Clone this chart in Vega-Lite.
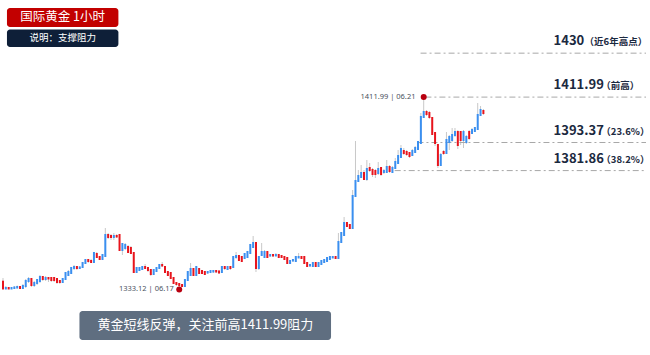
{
"$schema": "https://vega.github.io/schema/vega-lite/v6.json",
"width": 650, "height": 355, "padding": 0,
"autosize": {"type": "fit", "contains": "padding"},
"background": "white",
"config": {"view": {"stroke": null}, "font": "Noto Sans CJK SC"},
"datasets": {
"candles": [
{"i":0,"o":1336.30,"h":1337.82,"l":1333.31,"c":1333.52},
{"i":1,"o":1333.52,"h":1334.54,"l":1333.31,"c":1333.72},
{"i":2,"o":1333.72,"h":1334.13,"l":1333.31,"c":1333.52},
{"i":3,"o":1333.52,"h":1334.13,"l":1333.31,"c":1333.72},
{"i":4,"o":1333.72,"h":1334.54,"l":1333.31,"c":1333.93},
{"i":5,"o":1333.93,"h":1334.75,"l":1333.52,"c":1334.13},
{"i":6,"o":1334.13,"h":1334.54,"l":1333.31,"c":1333.72},
{"i":7,"o":1333.72,"h":1335.36,"l":1333.31,"c":1334.54},
{"i":8,"o":1334.54,"h":1337.41,"l":1333.72,"c":1336.59},
{"i":9,"o":1336.59,"h":1338.23,"l":1335.77,"c":1337.41},
{"i":10,"o":1337.41,"h":1337.82,"l":1334.13,"c":1334.95},
{"i":11,"o":1334.95,"h":1336.59,"l":1334.13,"c":1335.77},
{"i":12,"o":1335.77,"h":1337.41,"l":1334.95,"c":1337.00},
{"i":13,"o":1336.59,"h":1339.05,"l":1335.77,"c":1338.23},
{"i":14,"o":1338.23,"h":1338.64,"l":1336.59,"c":1337.41},
{"i":15,"o":1337.41,"h":1338.64,"l":1336.59,"c":1337.82},
{"i":16,"o":1337.82,"h":1338.23,"l":1336.18,"c":1337.62},
{"i":17,"o":1337.82,"h":1338.23,"l":1336.18,"c":1337.00},
{"i":18,"o":1337.82,"h":1338.23,"l":1336.18,"c":1337.00},
{"i":19,"o":1337.41,"h":1337.82,"l":1335.36,"c":1336.18},
{"i":20,"o":1336.59,"h":1337.00,"l":1335.36,"c":1336.18},
{"i":21,"o":1336.18,"h":1337.82,"l":1335.77,"c":1337.41},
{"i":22,"o":1337.41,"h":1340.28,"l":1337.00,"c":1339.87},
{"i":23,"o":1339.05,"h":1341.10,"l":1338.64,"c":1340.28},
{"i":24,"o":1339.87,"h":1342.33,"l":1339.46,"c":1341.92},
{"i":25,"o":1341.92,"h":1343.15,"l":1341.10,"c":1342.33},
{"i":26,"o":1342.33,"h":1342.74,"l":1341.10,"c":1341.92},
{"i":27,"o":1341.92,"h":1342.74,"l":1341.51,"c":1342.13},
{"i":28,"o":1342.33,"h":1344.38,"l":1341.92,"c":1343.97},
{"i":29,"o":1343.97,"h":1345.61,"l":1343.56,"c":1345.20},
{"i":30,"o":1345.20,"h":1345.61,"l":1343.97,"c":1344.79},
{"i":31,"o":1344.79,"h":1345.61,"l":1343.97,"c":1344.38},
{"i":32,"o":1344.38,"h":1348.48,"l":1343.97,"c":1348.07},
{"i":33,"o":1347.66,"h":1348.48,"l":1346.02,"c":1346.43},
{"i":34,"o":1346.43,"h":1346.84,"l":1345.20,"c":1345.61},
{"i":35,"o":1345.61,"h":1347.66,"l":1345.20,"c":1347.25},
{"i":36,"o":1346.84,"h":1358.32,"l":1346.43,"c":1355.45},
{"i":37,"o":1355.45,"h":1356.27,"l":1353.81,"c":1354.63},
{"i":38,"o":1355.04,"h":1355.86,"l":1353.40,"c":1354.63},
{"i":39,"o":1354.63,"h":1356.27,"l":1353.40,"c":1355.04},
{"i":40,"o":1355.04,"h":1355.86,"l":1354.22,"c":1354.84},
{"i":41,"o":1355.45,"h":1355.86,"l":1348.89,"c":1349.30},
{"i":42,"o":1349.30,"h":1352.17,"l":1347.25,"c":1351.76},
{"i":43,"o":1350.12,"h":1352.17,"l":1349.30,"c":1351.35},
{"i":44,"o":1350.53,"h":1351.35,"l":1348.07,"c":1348.48},
{"i":45,"o":1350.12,"h":1350.94,"l":1347.66,"c":1348.07},
{"i":46,"o":1348.07,"h":1348.48,"l":1339.87,"c":1340.28},
{"i":47,"o":1340.28,"h":1342.33,"l":1339.87,"c":1341.92},
{"i":48,"o":1341.10,"h":1342.33,"l":1340.69,"c":1341.92},
{"i":49,"o":1341.51,"h":1342.74,"l":1341.10,"c":1342.33},
{"i":50,"o":1342.33,"h":1343.56,"l":1341.51,"c":1341.92},
{"i":51,"o":1341.92,"h":1342.33,"l":1340.28,"c":1341.10},
{"i":52,"o":1341.10,"h":1341.51,"l":1338.64,"c":1339.46},
{"i":53,"o":1339.46,"h":1341.51,"l":1339.05,"c":1341.10},
{"i":54,"o":1340.69,"h":1342.33,"l":1340.28,"c":1341.92},
{"i":55,"o":1341.92,"h":1343.56,"l":1341.51,"c":1343.15},
{"i":56,"o":1343.15,"h":1344.38,"l":1342.33,"c":1342.95},
{"i":57,"o":1342.33,"h":1342.74,"l":1339.87,"c":1340.28},
{"i":58,"o":1340.28,"h":1340.69,"l":1338.64,"c":1339.05},
{"i":59,"o":1339.87,"h":1340.28,"l":1337.41,"c":1337.82},
{"i":60,"o":1337.82,"h":1338.23,"l":1335.36,"c":1335.77},
{"i":61,"o":1335.77,"h":1336.18,"l":1334.54,"c":1335.36},
{"i":62,"o":1335.36,"h":1335.77,"l":1333.12,"c":1334.95},
{"i":63,"o":1334.95,"h":1335.36,"l":1334.13,"c":1334.54},
{"i":64,"o":1334.54,"h":1337.41,"l":1334.13,"c":1337.00},
{"i":65,"o":1337.00,"h":1340.69,"l":1336.59,"c":1340.28},
{"i":66,"o":1339.05,"h":1343.97,"l":1338.64,"c":1341.51},
{"i":67,"o":1341.51,"h":1341.92,"l":1338.64,"c":1339.05},
{"i":68,"o":1339.05,"h":1342.74,"l":1338.64,"c":1342.33},
{"i":69,"o":1341.51,"h":1341.92,"l":1339.46,"c":1339.87},
{"i":70,"o":1340.69,"h":1341.10,"l":1339.46,"c":1339.87},
{"i":71,"o":1340.28,"h":1340.69,"l":1339.05,"c":1339.46},
{"i":72,"o":1340.08,"h":1340.69,"l":1339.46,"c":1340.28},
{"i":73,"o":1340.28,"h":1341.10,"l":1339.87,"c":1340.69},
{"i":74,"o":1340.49,"h":1341.10,"l":1339.87,"c":1340.69},
{"i":75,"o":1340.69,"h":1341.10,"l":1339.87,"c":1340.49},
{"i":76,"o":1340.49,"h":1341.10,"l":1339.46,"c":1340.08},
{"i":77,"o":1340.28,"h":1342.74,"l":1339.87,"c":1342.33},
{"i":78,"o":1342.33,"h":1342.74,"l":1341.10,"c":1341.92},
{"i":79,"o":1341.51,"h":1342.74,"l":1341.10,"c":1342.33},
{"i":80,"o":1342.33,"h":1342.74,"l":1341.10,"c":1341.92},
{"i":81,"o":1342.33,"h":1346.84,"l":1341.92,"c":1346.43},
{"i":82,"o":1346.43,"h":1348.48,"l":1345.61,"c":1346.84},
{"i":83,"o":1346.84,"h":1347.25,"l":1344.79,"c":1345.20},
{"i":84,"o":1346.43,"h":1346.84,"l":1344.38,"c":1344.79},
{"i":85,"o":1346.02,"h":1348.07,"l":1345.61,"c":1347.66},
{"i":86,"o":1346.43,"h":1348.89,"l":1346.02,"c":1348.48},
{"i":87,"o":1348.07,"h":1351.76,"l":1347.66,"c":1351.35},
{"i":88,"o":1350.53,"h":1355.04,"l":1350.12,"c":1352.17},
{"i":89,"o":1352.17,"h":1352.58,"l":1340.28,"c":1341.92},
{"i":90,"o":1341.92,"h":1346.84,"l":1341.10,"c":1346.43},
{"i":91,"o":1347.25,"h":1352.17,"l":1346.84,"c":1348.48},
{"i":92,"o":1346.43,"h":1349.30,"l":1346.02,"c":1348.48},
{"i":93,"o":1348.48,"h":1348.89,"l":1346.02,"c":1346.43},
{"i":94,"o":1347.05,"h":1347.66,"l":1346.43,"c":1347.25},
{"i":95,"o":1347.25,"h":1347.66,"l":1346.43,"c":1347.05},
{"i":96,"o":1347.05,"h":1348.07,"l":1346.84,"c":1347.25},
{"i":97,"o":1347.25,"h":1347.66,"l":1346.02,"c":1346.43},
{"i":98,"o":1346.84,"h":1347.25,"l":1346.02,"c":1346.43},
{"i":99,"o":1346.43,"h":1346.84,"l":1345.20,"c":1345.61},
{"i":100,"o":1346.02,"h":1346.43,"l":1343.56,"c":1343.97},
{"i":101,"o":1343.97,"h":1345.20,"l":1343.56,"c":1344.79},
{"i":102,"o":1345.00,"h":1345.61,"l":1344.38,"c":1345.20},
{"i":103,"o":1344.79,"h":1346.84,"l":1344.38,"c":1346.43},
{"i":104,"o":1346.23,"h":1348.07,"l":1346.02,"c":1346.43},
{"i":105,"o":1346.43,"h":1346.84,"l":1345.61,"c":1346.02},
{"i":106,"o":1346.43,"h":1346.84,"l":1343.56,"c":1343.97},
{"i":107,"o":1343.97,"h":1344.38,"l":1342.33,"c":1342.74},
{"i":108,"o":1342.95,"h":1343.56,"l":1342.33,"c":1343.15},
{"i":109,"o":1342.74,"h":1344.38,"l":1342.33,"c":1343.97},
{"i":110,"o":1343.97,"h":1344.38,"l":1342.33,"c":1342.74},
{"i":111,"o":1342.74,"h":1344.38,"l":1342.33,"c":1343.97},
{"i":112,"o":1343.56,"h":1345.20,"l":1343.15,"c":1344.79},
{"i":113,"o":1344.38,"h":1345.61,"l":1343.97,"c":1345.20},
{"i":114,"o":1344.79,"h":1346.43,"l":1344.38,"c":1346.02},
{"i":115,"o":1345.61,"h":1346.84,"l":1345.20,"c":1346.43},
{"i":116,"o":1346.23,"h":1346.84,"l":1346.02,"c":1346.43},
{"i":117,"o":1346.43,"h":1346.84,"l":1345.61,"c":1346.02},
{"i":118,"o":1346.02,"h":1356.27,"l":1345.61,"c":1352.58},
{"i":119,"o":1352.58,"h":1356.68,"l":1352.17,"c":1356.27},
{"i":120,"o":1355.45,"h":1362.83,"l":1355.04,"c":1360.37},
{"i":121,"o":1360.37,"h":1360.78,"l":1358.73,"c":1359.14},
{"i":122,"o":1359.55,"h":1359.96,"l":1357.91,"c":1358.32},
{"i":123,"o":1358.32,"h":1373.90,"l":1357.91,"c":1371.44},
{"i":124,"o":1371.44,"h":1393.99,"l":1371.03,"c":1377.59},
{"i":125,"o":1377.59,"h":1382.10,"l":1377.18,"c":1379.64},
{"i":126,"o":1379.23,"h":1384.15,"l":1378.82,"c":1380.87},
{"i":127,"o":1380.87,"h":1382.10,"l":1378.00,"c":1378.41},
{"i":128,"o":1378.41,"h":1386.20,"l":1377.59,"c":1382.51},
{"i":129,"o":1382.92,"h":1384.97,"l":1381.28,"c":1382.10},
{"i":130,"o":1382.10,"h":1382.92,"l":1379.23,"c":1380.46},
{"i":131,"o":1381.69,"h":1382.51,"l":1378.82,"c":1380.46},
{"i":132,"o":1380.87,"h":1385.38,"l":1380.05,"c":1382.51},
{"i":133,"o":1382.92,"h":1383.33,"l":1379.64,"c":1380.46},
{"i":134,"o":1381.28,"h":1382.51,"l":1380.46,"c":1381.69},
{"i":135,"o":1381.28,"h":1386.20,"l":1380.87,"c":1383.33},
{"i":136,"o":1383.33,"h":1384.15,"l":1380.87,"c":1381.69},
{"i":137,"o":1381.28,"h":1383.74,"l":1380.87,"c":1382.92},
{"i":138,"o":1382.92,"h":1387.02,"l":1382.51,"c":1385.38},
{"i":139,"o":1384.97,"h":1390.30,"l":1384.56,"c":1387.84},
{"i":140,"o":1387.43,"h":1392.35,"l":1387.02,"c":1390.71},
{"i":141,"o":1389.89,"h":1391.12,"l":1388.25,"c":1389.07},
{"i":142,"o":1389.48,"h":1390.30,"l":1387.84,"c":1388.66},
{"i":143,"o":1389.07,"h":1389.48,"l":1387.02,"c":1387.84},
{"i":144,"o":1388.25,"h":1390.71,"l":1387.84,"c":1389.89},
{"i":145,"o":1389.48,"h":1391.94,"l":1389.07,"c":1391.12},
{"i":146,"o":1390.71,"h":1393.99,"l":1390.30,"c":1393.58},
{"i":147,"o":1393.17,"h":1405.47,"l":1392.76,"c":1403.83},
{"i":148,"o":1403.83,"h":1411.99,"l":1403.42,"c":1405.88},
{"i":149,"o":1405.88,"h":1406.70,"l":1404.24,"c":1405.06},
{"i":150,"o":1405.47,"h":1406.29,"l":1403.01,"c":1403.83},
{"i":151,"o":1403.42,"h":1403.83,"l":1396.45,"c":1396.86},
{"i":152,"o":1397.27,"h":1397.68,"l":1391.94,"c":1393.17},
{"i":153,"o":1392.35,"h":1392.76,"l":1382.92,"c":1384.15},
{"i":154,"o":1384.15,"h":1389.07,"l":1383.74,"c":1388.25},
{"i":155,"o":1389.48,"h":1390.30,"l":1388.25,"c":1389.07},
{"i":156,"o":1389.07,"h":1397.68,"l":1388.66,"c":1394.40},
{"i":157,"o":1393.58,"h":1396.45,"l":1390.30,"c":1395.63},
{"i":158,"o":1394.40,"h":1399.32,"l":1393.58,"c":1396.45},
{"i":159,"o":1396.45,"h":1399.32,"l":1395.63,"c":1397.68},
{"i":160,"o":1397.68,"h":1398.50,"l":1390.71,"c":1392.35},
{"i":161,"o":1397.68,"h":1398.09,"l":1392.35,"c":1394.40},
{"i":162,"o":1394.40,"h":1398.50,"l":1391.12,"c":1397.68},
{"i":163,"o":1393.58,"h":1396.45,"l":1392.76,"c":1395.63},
{"i":164,"o":1397.68,"h":1398.50,"l":1394.40,"c":1395.22},
{"i":165,"o":1397.27,"h":1399.32,"l":1396.86,"c":1398.50},
{"i":166,"o":1398.09,"h":1399.73,"l":1397.68,"c":1399.32},
{"i":167,"o":1398.91,"h":1409.57,"l":1398.50,"c":1404.65},
{"i":168,"o":1404.65,"h":1408.34,"l":1404.24,"c":1406.70},
{"i":169,"o":1406.29,"h":1407.11,"l":1404.65,"c":1405.47}
],
"levels": [
{"v":1430,"x0":146.9,"x1":226.2,"num":"1430","note":"（近6年高点）","xn":193.7,"xp":204.6},
{"v":1411.99,"x0":148.6,"x1":226.2,"num":"1411.99","note":"（前高）","xn":193.7,"xp":210.5},
{"v":1393.37,"x0":145.8,"x1":226.2,"num":"1393.37","note":"（23.6%）","xn":193.7,"xp":210.5},
{"v":1381.86,"x0":137.8,"x1":226.2,"num":"1381.86","note":"（38.2%）","xn":193.7,"xp":210.5}
],
"boxes": [
{"kind":"title","x0":1.4,"x1":40.6,"y0":1440.73,"y1":1448.52,"tx":21,"ty":1444.63,"label":"国际黄金  1小时"},
{"kind":"sub","x0":1.4,"x1":40.6,"y0":1432.53,"y1":1439.7,"tx":21,"ty":1436.1,"label":"说明：支撑阻力"},
{"kind":"note","x0":26.9,"x1":115.4,"y0":1312.4,"y1":1324.29,"tx":71.2,"ty":1318.35,"label":"黄金短线反弹，关注前高1411.99阻力"}
],
"marks": [
{"i":148,"p":1411.99,"ti":145.1,"label":"1411.99  | 06.21"},
{"i":62,"p":1333.12,"ti":60.1,"label":"1333.12  | 06.17"}
]
},
"layer": [
{
"data": {"name": "candles"},
"mark": {"type": "rule", "color": "#c8c8c8", "strokeWidth": 1},
"encoding": {
"x": {"field": "i", "type": "quantitative", "scale": {"domain": [-1.05, 226.2], "nice": false, "zero": false}, "axis": null},
"y": {"field": "l", "type": "quantitative", "scale": {"domain": [1306.25, 1451.8], "nice": false, "zero": false}, "axis": null},
"y2": {"field": "h"}
}
},
{
"data": {"name": "levels"},
"mark": {"type": "rule", "color": "#a8a8a8", "strokeWidth": 1, "strokeDash": [6, 3, 2, 3]},
"encoding": {
"x": {"field": "x0", "type": "quantitative", "scale": {"domain": [-1.05, 226.2], "nice": false, "zero": false}, "axis": null},
"x2": {"field": "x1"},
"y": {"field": "v", "type": "quantitative", "scale": {"domain": [1306.25, 1451.8], "nice": false, "zero": false}, "axis": null}
}
},
{
"data": {"name": "candles"},
"mark": {"type": "rule", "strokeWidth": 2, "strokeCap": "square"},
"encoding": {
"x": {"field": "i", "type": "quantitative", "scale": {"domain": [-1.05, 226.2], "nice": false, "zero": false}, "axis": null},
"y": {"field": "o", "type": "quantitative", "scale": {"domain": [1306.25, 1451.8], "nice": false, "zero": false}, "axis": null},
"y2": {"field": "c"},
"color": {"condition": {"test": "datum.o > datum.c", "value": "#e8141c"}, "value": "#3a8ff0"}
}
},
{
"data": {"name": "marks"},
"mark": {"type": "point", "filled": true, "size": 36, "color": "#b80010", "opacity": 1},
"encoding": {
"x": {"field": "i", "type": "quantitative", "scale": {"domain": [-1.05, 226.2], "nice": false, "zero": false}, "axis": null},
"y": {"field": "p", "type": "quantitative", "scale": {"domain": [1306.25, 1451.8], "nice": false, "zero": false}, "axis": null}
}
},
{
"data": {"name": "marks"},
"mark": {"type": "text", "align": "right", "baseline": "middle", "fontSize": 7.5, "color": "#4a5260", "font": "Noto Sans"},
"encoding": {
"x": {"field": "ti", "type": "quantitative", "scale": {"domain": [-1.05, 226.2], "nice": false, "zero": false}, "axis": null},
"y": {"field": "p", "type": "quantitative", "scale": {"domain": [1306.25, 1451.8], "nice": false, "zero": false}, "axis": null},
"text": {"field": "label"}
}
},
{
"data": {"name": "levels"},
"mark": {"type": "text", "align": "left", "baseline": "middle", "dy": -12, "fontSize": 13, "fontWeight": "bold", "color": "#1b2940"},
"encoding": {
"x": {"field": "xn", "type": "quantitative", "scale": {"domain": [-1.05, 226.2], "nice": false, "zero": false}, "axis": null},
"y": {"field": "v", "type": "quantitative", "scale": {"domain": [1306.25, 1451.8], "nice": false, "zero": false}, "axis": null},
"text": {"field": "num"}
}
},
{
"data": {"name": "levels"},
"mark": {"type": "text", "align": "left", "baseline": "middle", "dy": -11, "fontSize": 9.5, "fontWeight": "bold", "color": "#1b2940"},
"encoding": {
"x": {"field": "xp", "type": "quantitative", "scale": {"domain": [-1.05, 226.2], "nice": false, "zero": false}, "axis": null},
"y": {"field": "v", "type": "quantitative", "scale": {"domain": [1306.25, 1451.8], "nice": false, "zero": false}, "axis": null},
"text": {"field": "note"}
}
},
{
"data": {"name": "boxes"},
"mark": {"type": "rect", "cornerRadius": 3},
"encoding": {
"x": {"field": "x0", "type": "quantitative", "scale": {"domain": [-1.05, 226.2], "nice": false, "zero": false}, "axis": null},
"x2": {"field": "x1"},
"y": {"field": "y0", "type": "quantitative", "scale": {"domain": [1306.25, 1451.8], "nice": false, "zero": false}, "axis": null},
"y2": {"field": "y1"},
"color": {"field": "kind", "type": "nominal", "scale": {"domain": ["title", "sub", "note"], "range": ["#c20000", "#0e1f38", "#5f6e80"]}, "legend": null}
}
},
{
"data": {"name": "boxes"},
"transform": [{"filter": "datum.kind == 'title'"}],
"mark": {"type": "text", "align": "center", "baseline": "middle", "fontSize": 12.5, "color": "white"},
"encoding": {
"x": {"field": "tx", "type": "quantitative", "scale": {"domain": [-1.05, 226.2], "nice": false, "zero": false}, "axis": null},
"y": {"field": "ty", "type": "quantitative", "scale": {"domain": [1306.25, 1451.8], "nice": false, "zero": false}, "axis": null},
"text": {"field": "label"}
}
},
{
"data": {"name": "boxes"},
"transform": [{"filter": "datum.kind == 'sub'"}],
"mark": {"type": "text", "align": "center", "baseline": "middle", "fontSize": 9.5, "color": "white"},
"encoding": {
"x": {"field": "tx", "type": "quantitative", "scale": {"domain": [-1.05, 226.2], "nice": false, "zero": false}, "axis": null},
"y": {"field": "ty", "type": "quantitative", "scale": {"domain": [1306.25, 1451.8], "nice": false, "zero": false}, "axis": null},
"text": {"field": "label"}
}
},
{
"data": {"name": "boxes"},
"transform": [{"filter": "datum.kind == 'note'"}],
"mark": {"type": "text", "align": "center", "baseline": "middle", "fontSize": 13, "color": "white"},
"encoding": {
"x": {"field": "tx", "type": "quantitative", "scale": {"domain": [-1.05, 226.2], "nice": false, "zero": false}, "axis": null},
"y": {"field": "ty", "type": "quantitative", "scale": {"domain": [1306.25, 1451.8], "nice": false, "zero": false}, "axis": null},
"text": {"field": "label"}
}
},
{
"mark": {"type": "rule", "color": "#9a9a9a", "strokeWidth": 3},
"encoding": {
"x": {"datum": -1.05, "type": "quantitative", "scale": {"domain": [-1.05, 226.2], "nice": false, "zero": false}, "axis": null}
}
},
{
"mark": {"type": "rule", "color": "#b0b0b0", "strokeWidth": 2},
"encoding": {
"y": {"datum": 1451.8, "type": "quantitative", "scale": {"domain": [1306.25, 1451.8], "nice": false, "zero": false}, "axis": null}
}
}
]
}
